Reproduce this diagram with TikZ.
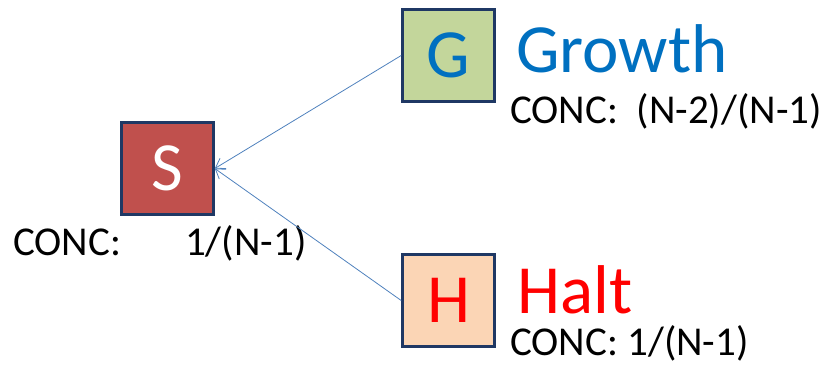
\documentclass[tikz,border=0pt]{standalone}
\usepackage{fontspec}
\usetikzlibrary{arrows.meta}
\setmainfont{Carlito}
\definecolor{boxline}{HTML}{1F3864}
\definecolor{sfill}{HTML}{C0504D}
\definecolor{gfill}{HTML}{C3D69B}
\definecolor{hfill}{HTML}{FBD5B5}
\definecolor{gtext}{HTML}{0070C0}
\definecolor{link}{HTML}{4F81BD}
\tikzset{
  state/.style={draw=boxline,line width=2.6pt,minimum size=92pt,inner sep=0pt,
    font=\fontsize{69}{69}\selectfont},
  title/.style={anchor=base west,inner sep=0pt,font=\fontsize{69}{69}\selectfont},
  conc/.style={anchor=base west,inner sep=0pt,font=\fontsize{41}{41}\selectfont},
  feed/.style={-{Straight Barb[length=9pt,width=12pt]},link,line width=0.8pt},
}
\begin{document}
\begin{tikzpicture}[x=1pt,y=-1pt]
   \useasboundingbox (0,0) rectangle (822,368);
   \node [state,fill=sfill,text=white] (S) at (167.5,168.5) {S};
   \node [state,fill=gfill,text=gtext] (G) at (448.5,55.5) {G};
   \node [state,fill=hfill,text=red] (H) at (448.5,300.5) {H};
   \node [title,text=gtext] (growth) at (516,72) {Growth};
   \node [title,text=red] (halt) at (517,313) {Halt};
   \node [conc] (gconc) at (510,123) {CONC:\ \ (N-2)/(N-1)};
   \node [conc] (hconc) at (510,355) {CONC: 1/(N-1)};
   \node [conc] (sconc) at (13,255) {CONC:\hspace{64pt}1/(N-1)};
   \draw [feed] (G.west) -- (S.east);
   \draw [feed] (H.west) -- (S.east);
 \end{tikzpicture}
\end{document}
